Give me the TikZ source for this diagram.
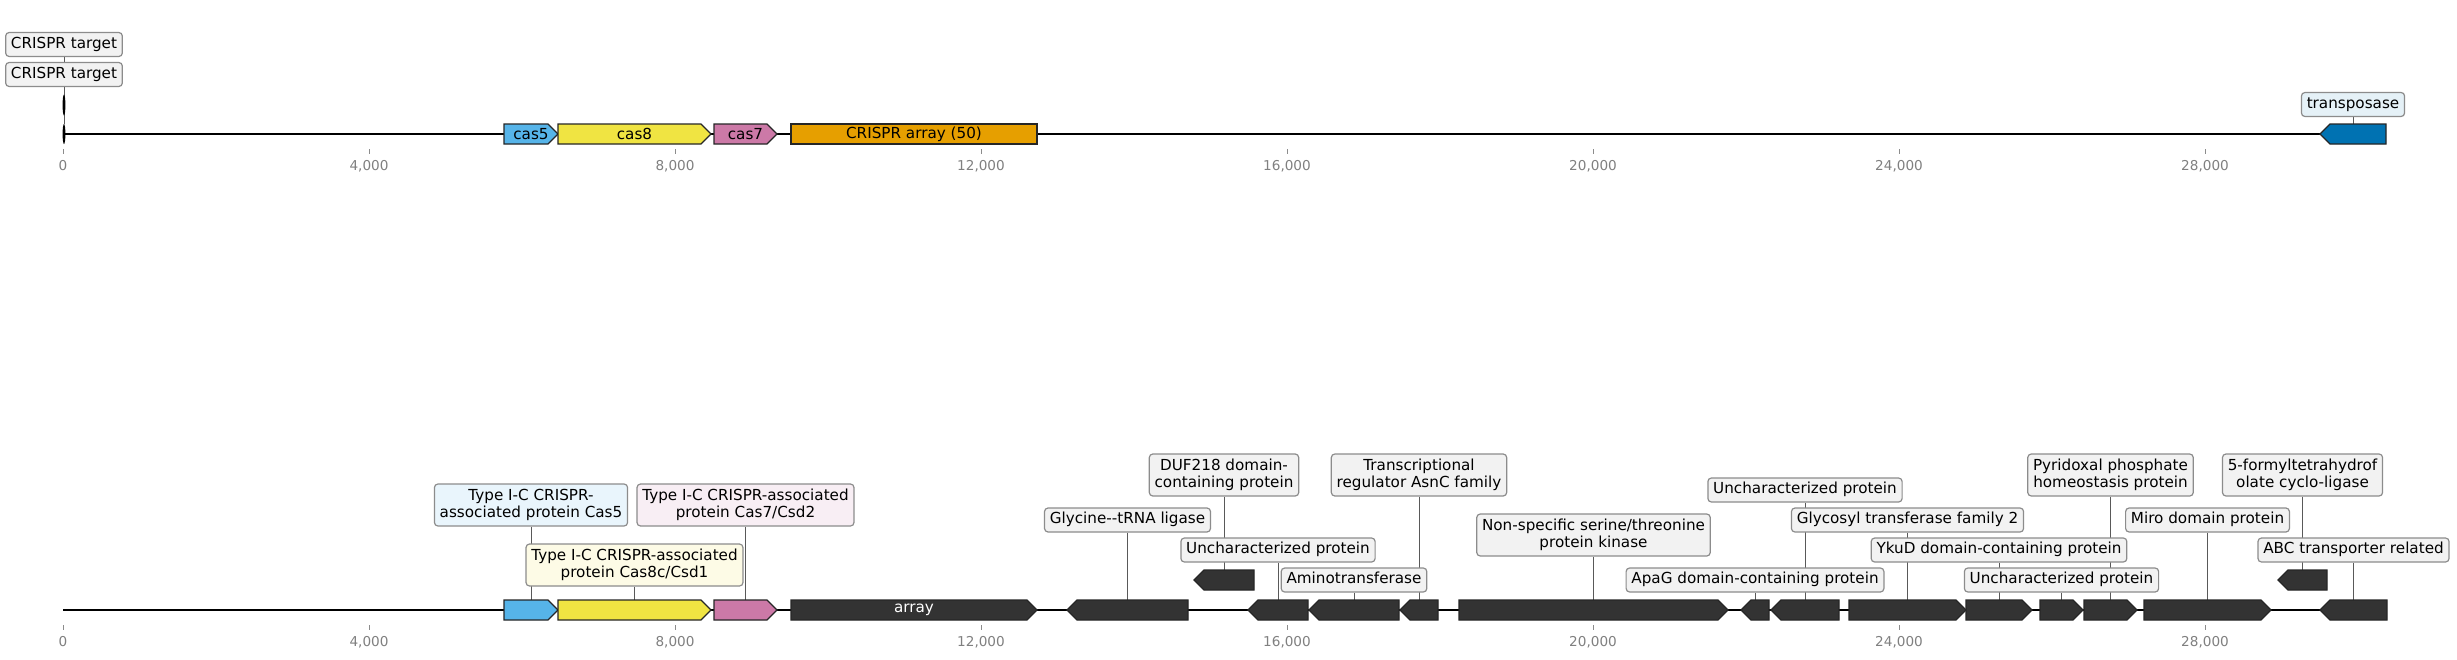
\documentclass[tikz,border=0pt]{standalone}
\usepackage{fontspec}
\setmainfont{DejaVu Sans}
\definecolor{cascinq}{HTML}{56B4E9}
\definecolor{caseight}{HTML}{F0E442}
\definecolor{casseven}{HTML}{CC79A7}
\definecolor{arrcol}{HTML}{E69F00}
\definecolor{tnpcol}{HTML}{0072B2}
\definecolor{dgene}{HTML}{333333}
\definecolor{boxgrey}{HTML}{F2F2F2}
\newcommand\lblfont{\fontsize{15.2}{17.5}\selectfont}
\newcommand\genefont{\fontsize{15.2}{16}\selectfont}
\newcommand\tickfont{\fontsize{13.6}{15}\selectfont}
\pgfdeclarelayer{bgl}
\pgfdeclarelayer{lead}
\pgfsetlayers{bgl,lead,main}
% gene pointing right: name, x1, x2, ytop, style
\newcommand\geneR[5]{%
  \draw[gene,#5] (#2,#4) -- ({#3-10},#4) -- (#3,{#4+10}) -- ({#3-10},{#4+20}) -- (#2,{#4+20}) -- cycle;
  \coordinate (#1) at ({(#2+#3)/2},#4);}
% gene pointing left
\newcommand\geneL[5]{%
  \draw[gene,#5] (#3,#4) -- ({#2+10},#4) -- (#2,{#4+10}) -- ({#2+10},{#4+20}) -- (#3,{#4+20}) -- cycle;
  \coordinate (#1) at ({(#2+#3)/2},#4);}
\tikzset{
  gene/.style={draw=black!85, line width=1.2pt, line join=miter, fill=dgene},
  lab/.style={draw=black!45, line width=1.2pt, rounded corners=3.5pt, fill=boxgrey,
    font=\lblfont, inner xsep=5.3pt, inner ysep=0pt},
  one/.style={lab, text height=11.4pt, text depth=3.6pt, minimum height=24pt},
  two/.style={lab, align=center, minimum height=42pt},
  leader/.style={draw=black!65, line width=0.9pt},
  axisline/.style={draw=black, line width=2.4pt},
  tickmark/.style={draw=black!45, line width=0.9pt},
  ticklabel/.style={font=\tickfont, text=black!50, inner sep=0pt},
  genelabel/.style={font=\genefont, inner sep=0pt}
}
\begin{document}
\begin{tikzpicture}[x=1pt,y=-1pt]
\useasboundingbox (0,0) rectangle (2457,659);
\begin{pgfonlayer}{bgl}
\fill[white] (0,0) rectangle (2457,659);
\end{pgfonlayer}

% ---------- top track ----------
\coordinate (topL) at (64,134);
\coordinate (topR) at (2386,134);
\draw[axisline] (topL) -- (topR);
\foreach \v/\t [count=\i] in {0/0,4/{4,000},8/{8,000},12/{12,000},16/{16,000},20/{20,000},24/{24,000},28/{28,000}}{
  \pgfmathsetmacro\xx{63+76.5*\v}
  \draw[tickmark] (\xx,149) -- (\xx,154);
  \node[ticklabel] (ta\i) at (\xx,166) {\t};
}
\coordinate (cfa) at (64,94);
\coordinate (cfb) at (64,124);
\fill[black] (64,105) ellipse [x radius=1.4pt, y radius=10.5pt];
\fill[black] (64,134) ellipse [x radius=1.4pt, y radius=10pt];
\node[one] (ctA) at (64,44.5) {CRISPR target};
\node[one] (ctB) at (64,74.5) {CRISPR target};

\geneR{tc5}{504}{558}{124}{fill=cascinq}
\geneR{tc8}{558}{711}{124}{fill=caseight}
\geneR{tc7}{714}{777}{124}{fill=casseven}
\draw[gene,fill=arrcol] (791,124) rectangle (1037,144);
\coordinate (tarr) at (914,124);
\geneL{ttnp}{2320}{2386}{124}{fill=tnpcol}
\node[genelabel] (tl5) at (531,134) {cas5};
\node[genelabel] (tl8) at (634.5,134) {cas8};
\node[genelabel] (tl7) at (745.5,134) {cas7};
\node[genelabel] (tlarr) at (914,134) {CRISPR array (50)};
\node[one,fill=tnpcol!10] (ltnp) at (2353,104.5) {transposase};

\begin{pgfonlayer}{lead}
\draw[leader] (ctA.south) -- (cfb);
\draw[leader] (ctB.south) -- (cfa);
\draw[leader] (ltnp.south) -- (ttnp);
\end{pgfonlayer}

% ---------- bottom track ----------
\coordinate (botL) at (63,610);
\coordinate (botR) at (2387,610);
\draw[axisline] (botL) -- (botR);
\foreach \v/\t [count=\i] in {0/0,4/{4,000},8/{8,000},12/{12,000},16/{16,000},20/{20,000},24/{24,000},28/{28,000}}{
  \pgfmathsetmacro\xx{63+76.5*\v}
  \draw[tickmark] (\xx,625) -- (\xx,630);
  \node[ticklabel] (tb\i) at (\xx,642) {\t};
}

\geneR{g5}{504}{558}{600}{fill=cascinq}
\geneR{g8}{558}{711}{600}{fill=caseight}
\geneR{g7}{714}{777}{600}{fill=casseven}
\geneR{garr}{791}{1037}{600}{}
\node[genelabel,text=white] (larr) at (914,610) {array};
\geneL{ggly}{1067}{1188}{600}{}
\geneL{gduf}{1194}{1254}{570}{}
\geneL{gua}{1248}{1308}{600}{}
\geneL{gam}{1309}{1399}{600}{}
\geneL{gtr}{1400}{1438}{600}{}
\geneR{gns}{1459}{1728}{600}{}
\geneL{gapa}{1741}{1769}{600}{}
\geneL{gub}{1771}{1839}{600}{}
\geneR{ggt}{1849}{1966}{600}{}
\geneR{gyk}{1966}{2032}{600}{}
\geneR{guc}{2040}{2083}{600}{}
\geneR{gpy}{2084}{2137}{600}{}
\geneR{gmi}{2144}{2271}{600}{}
\geneL{gfo}{2278}{2327}{570}{}
\geneL{gabc}{2320}{2387}{600}{}

\node[two,fill=cascinq!13] (L5) at (531,505) {Type I-C CRISPR-\\associated protein Cas5};
\node[two,fill=caseight!13] (L8) at (634.5,565) {Type I-C CRISPR-associated\\protein Cas8c/Csd1};
\node[two,fill=casseven!13] (L7) at (745.5,505) {Type I-C CRISPR-associated\\protein Cas7/Csd2};
\node[one] (Lgly) at (1127.5,520) {Glycine-{}-tRNA ligase\ };
\node[two] (Lduf) at (1224,475) {DUF218 domain-\\containing protein};
\node[one] (Lua) at (1278,550) {Uncharacterized protein\ };
\node[two] (Ltr) at (1419,475) {Transcriptional\\regulator AsnC family};
\node[one] (Lam) at (1354,580) {Aminotransferase\ };
\node[two] (Lns) at (1593.5,535) {Non-specific serine/threonine\\protein kinase};
\node[one] (Lub) at (1805,490) {Uncharacterized protein\ };
\node[one] (Lgt) at (1907.5,520) {Glycosyl transferase family 2\ };
\node[one] (Lapa) at (1755,580) {ApaG domain-containing protein};
\node[one] (Lyk) at (1999,550) {YkuD domain-containing protein};
\node[two] (Lpy) at (2110.5,475) {Pyridoxal phosphate\\homeostasis protein};
\node[one] (Luc) at (2061.5,580) {Uncharacterized protein\ };
\node[one] (Lmi) at (2207.5,520) {Miro domain protein\ };
\node[two] (Lfo) at (2302.5,475) {5-formyltetrahydrof\\olate cyclo-ligase};
\node[one] (Labc) at (2353.5,550) {ABC transporter related\ };

\begin{pgfonlayer}{lead}
\draw[leader] (L5.south) -- (g5);
\draw[leader] (L8.south) -- (g8);
\draw[leader] (L7.south) -- (g7);
\draw[leader] (Lgly.south) -- (ggly);
\draw[leader] (Lduf.south) -- (gduf);
\draw[leader] (Lua.south) -- (gua);
\draw[leader] (Ltr.south) -- (gtr);
\draw[leader] (Lam.south) -- (gam);
\draw[leader] (Lns.south) -- (gns);
\draw[leader] (Lub.south) -- (gub);
\draw[leader] (Lgt.south) -- (ggt);
\draw[leader] (Lapa.south) -- (gapa);
\draw[leader] (Lyk.south) -- (gyk);
\draw[leader] (Lpy.south) -- (gpy);
\draw[leader] (Luc.south) -- (guc);
\draw[leader] (Lmi.south) -- (gmi);
\draw[leader] (Lfo.south) -- (gfo);
\draw[leader] (Labc.south) -- (gabc);
\end{pgfonlayer}
\end{tikzpicture}
\end{document}
